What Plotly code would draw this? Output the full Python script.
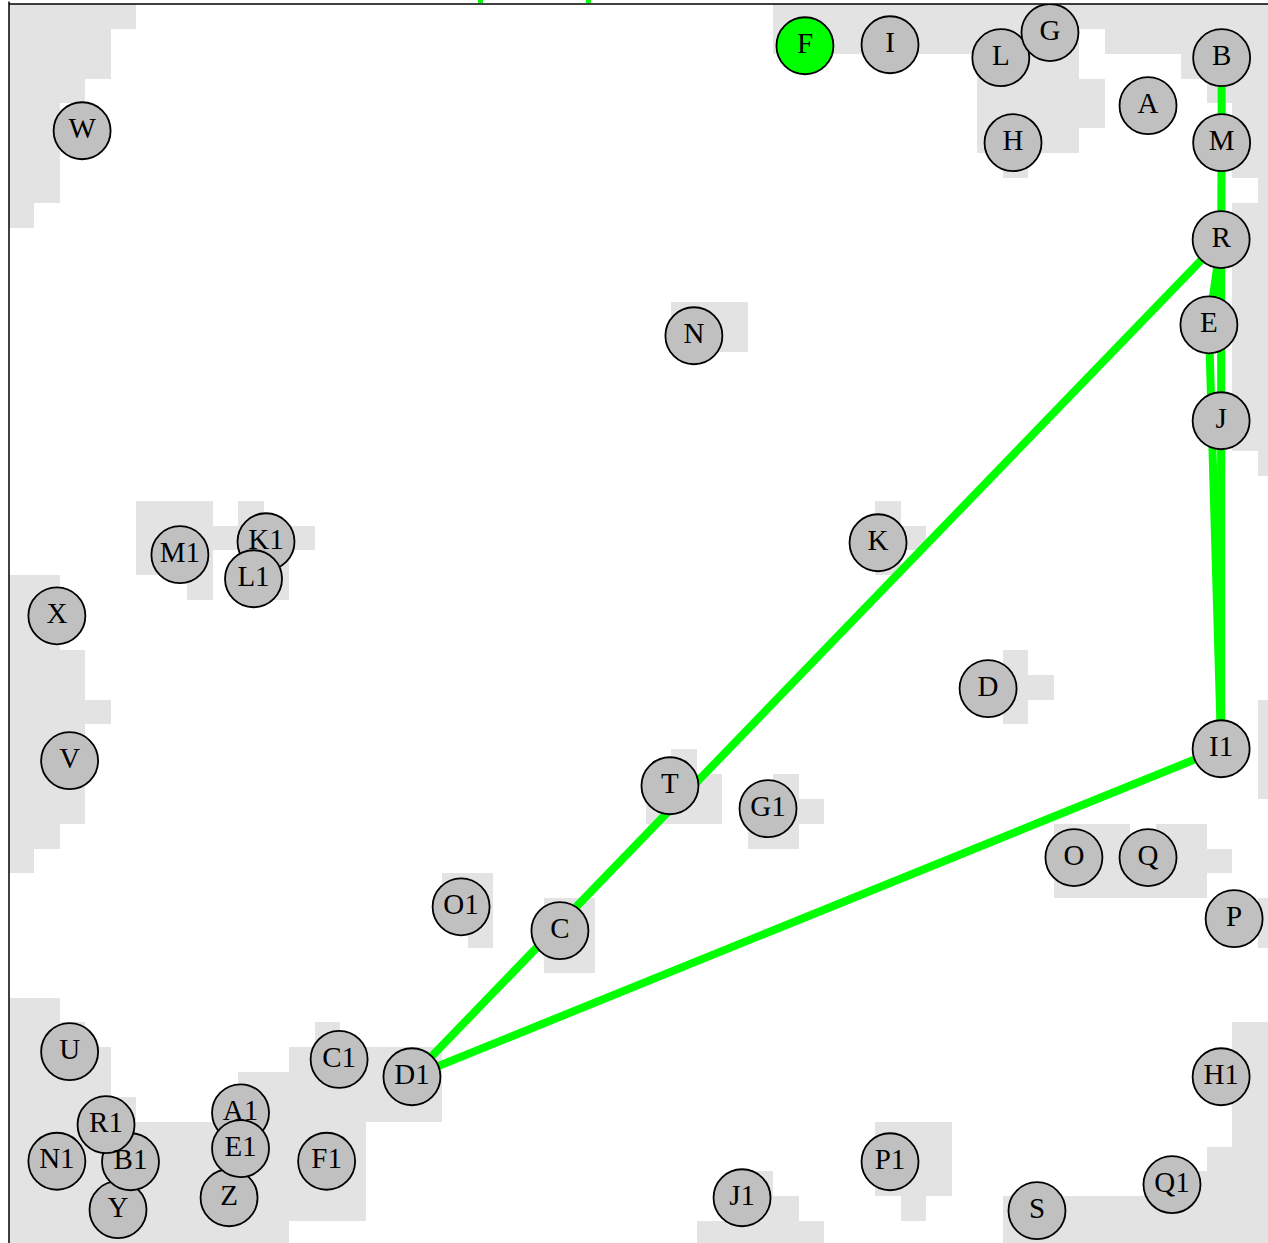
import numpy as np
import plotly.graph_objects as go

# ---------------- data (grid units: x to the right, y downward) ----------------
NODE_NAMES = ["F", "I", "L", "G", "B", "A", "M", "H", "W", "R", "N", "E", "J", "K",
              "M1", "K1", "L1", "X", "D", "I1", "V", "T", "G1", "O", "Q", "P", "O1", "C",
              "U", "C1", "D1", "H1", "N1", "Y", "B1", "R1", "Z", "A1", "E1", "F1",
              "P1", "J1", "Q1", "S"]
NODE_X = [31.25, 34.59, 38.94, 40.87, 47.61, 44.72, 47.61, 39.42, 2.87, 47.59, 26.89, 47.11, 47.59, 34.12,
          6.71, 10.09, 9.60, 1.88, 38.44, 47.59, 2.38, 25.95, 29.80, 41.81, 44.72, 48.10, 17.75, 21.63,
          2.38, 12.96, 15.82, 47.59, 1.88, 4.28, 4.77, 3.81, 8.64, 9.09, 9.09, 12.47,
          34.59, 28.78, 45.66, 40.36]
NODE_Y = [1.68, 1.64, 2.16, 1.15, 2.16, 4.09, 5.58, 5.58, 5.10, 9.48, 13.35, 12.91, 16.77, 21.68,
          22.16, 21.64, 23.13, 24.62, 27.55, 29.97, 30.45, 31.46, 32.38, 34.35, 34.35, 36.81, 36.33, 37.29,
          42.16, 42.47, 43.17, 43.17, 46.57, 48.52, 46.59, 45.10, 48.04, 44.62, 46.06, 46.57,
          46.59, 48.04, 47.51, 48.56]
HIGHLIGHTED = ["F"]

EDGES = [("B", "M"), ("M", "R"), ("R", "E"), ("E", "I1"), ("R", "I1"),
         ("R", "D1"), ("I1", "D1")]

# grey occupied cells: (row_first, row_last, col_first, col_last)
GREY_BLOCKS = [
    (0, 0, 0, 4), (1, 2, 0, 3), (3, 3, 0, 2), (4, 7, 0, 1), (8, 8, 0, 0),
    (0, 0, 30, 49), (1, 1, 30, 41), (1, 1, 43, 49),
    (2, 2, 38, 41), (2, 2, 46, 49), (3, 4, 38, 42), (3, 3, 47, 49), (4, 6, 48, 49),
    (5, 5, 38, 41), (6, 6, 39, 39), (7, 7, 49, 49), (8, 17, 48, 49), (18, 18, 49, 49),
    (12, 13, 26, 28),
    (20, 20, 34, 34), (21, 21, 34, 35), (22, 22, 34, 34),
    (20, 20, 5, 7), (20, 20, 9, 9), (21, 21, 5, 11), (22, 22, 5, 7), (22, 23, 9, 10), (23, 23, 7, 7),
    (23, 25, 0, 1), (26, 27, 0, 2), (28, 28, 0, 3), (29, 32, 0, 2), (33, 33, 0, 1), (34, 34, 0, 0),
    (26, 26, 39, 39), (27, 27, 38, 40), (28, 28, 39, 39),
    (28, 31, 49, 49),
    (30, 30, 26, 26), (31, 32, 25, 27),
    (31, 31, 30, 30), (32, 32, 29, 31), (33, 33, 29, 30),
    (33, 33, 41, 43), (33, 33, 45, 46), (34, 34, 41, 47), (35, 35, 41, 46),
    (36, 37, 49, 49),
    (35, 36, 17, 18), (37, 37, 18, 18),
    (36, 38, 21, 22),
    (40, 40, 0, 1), (41, 41, 0, 2), (41, 41, 12, 12), (42, 43, 0, 3), (42, 42, 11, 16),
    (43, 44, 9, 16), (44, 44, 0, 4), (45, 48, 0, 13), (49, 49, 0, 10),
    (41, 45, 48, 49), (46, 46, 47, 49), (47, 47, 45, 49), (48, 49, 39, 49),
    (45, 47, 34, 36), (48, 48, 35, 35),
    (47, 47, 29, 29), (48, 48, 29, 30), (49, 49, 27, 31),
]
OFFSCALE_MARKS_X = [18.51, 22.75]   # green ticks just above the frame

GRID_N = 50
X_RANGE = [0, 49.43]
Y_RANGE = [49.86, 0]

# ---------------- figure ----------------
fig = go.Figure()

grid = np.full((GRID_N, GRID_N), np.nan)
for r0, r1, c0, c1 in GREY_BLOCKS:
    grid[r0:r1 + 1, c0:c1 + 1] = 1
fig.add_trace(go.Heatmap(z=grid, x0=0.5, dx=1, y0=0.5, dy=1,
                         colorscale=[[0, "#e3e3e3"], [1, "#e3e3e3"]],
                         showscale=False, hoverinfo="skip", zsmooth=False))

pos = {n: (x, y) for n, x, y in zip(NODE_NAMES, NODE_X, NODE_Y)}
ex, ey = [], []
for a, b in EDGES:
    ex += [pos[a][0], pos[b][0], None]
    ey += [pos[a][1], pos[b][1], None]
fig.add_trace(go.Scatter(x=ex, y=ey, mode="lines",
                         line=dict(color="#00ff00", width=8),
                         hoverinfo="skip", showlegend=False))

colors = ["#00ff00" if n in HIGHLIGHTED else "#c0c0c0" for n in NODE_NAMES]
fig.add_trace(go.Scatter(x=NODE_X, y=NODE_Y, mode="markers+text", text=NODE_NAMES,
                         textposition="middle center",
                         textfont=dict(family="Liberation Serif, Times New Roman, serif",
                                       size=29, color="black"),
                         marker=dict(size=57, color=colors,
                                     line=dict(color="black", width=1.8)),
                         showlegend=False, hoverinfo="text"))

shapes = [
    dict(type="line", xref="paper", yref="paper", x0=0, x1=0, y0=0, y1=1.002,
         line=dict(color="black", width=1.5)),
    dict(type="line", xref="paper", yref="paper", x0=0, x1=1.01, y0=1, y1=1,
         line=dict(color="black", width=1.5)),
]
for mx in OFFSCALE_MARKS_X:
    px = mx / X_RANGE[1]
    shapes.append(dict(type="rect", xref="paper", yref="paper",
                       x0=px - 0.002, x1=px + 0.002, y0=1.0008, y1=1.004,
                       fillcolor="#00ff00", line=dict(width=0)))

fig.update_layout(
    width=1268, height=1243, autosize=False,
    margin=dict(l=9, r=0, t=4, b=0, pad=0),
    paper_bgcolor="white", plot_bgcolor="white",
    xaxis=dict(range=X_RANGE, visible=False, fixedrange=True),
    yaxis=dict(range=Y_RANGE, visible=False, fixedrange=True),
    shapes=shapes, showlegend=False,
)

fig.write_html("out.html", config={"displayModeBar": False},
               post_script="document.body.style.margin='0px';document.body.style.overflow='hidden';")
